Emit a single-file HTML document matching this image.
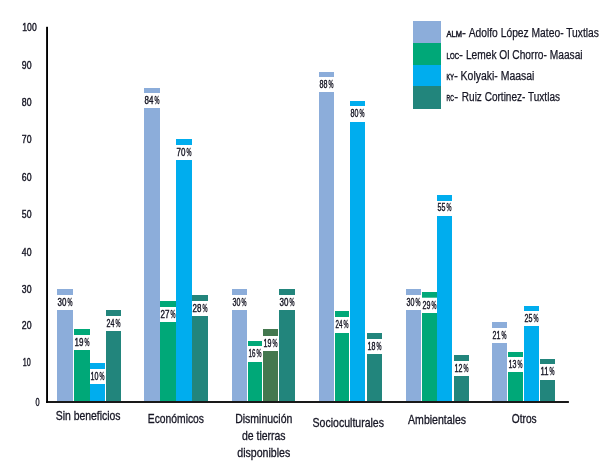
<!DOCTYPE html>
<html lang="es"><head><meta charset="utf-8"><title>Beneficios</title>
<style>
html,body{margin:0;padding:0;background:#fff;}
body{width:608px;height:469px;overflow:hidden;}
svg{display:block;}
text{font-family:"Liberation Sans",sans-serif;fill:#161624;stroke:#161624;stroke-width:0.4px;}
.v{font-size:10.2px;}
.y{font-size:10.5px;}
.c{font-size:12.2px;stroke-width:0.3px;}
.l{font-size:12.5px;stroke-width:0.25px;}
.s{font-size:9px;stroke-width:0.5px;}
</style></head><body>
<svg width="608" height="469" viewBox="0 0 608 469">
<rect x="0" y="0" width="608" height="469" fill="#fff"/>

<rect x="57" y="289" width="16" height="112" fill="#8cadda"/>
<rect x="57" y="295" width="16" height="15" fill="#fff"/>
<text class="v" x="57.5" y="305.8" textLength="8.9" lengthAdjust="spacingAndGlyphs">30</text>
<text class="v" x="67.6" y="305.8" textLength="5.0" lengthAdjust="spacingAndGlyphs">%</text>
<rect x="74" y="329" width="16" height="72" fill="#00a878"/>
<rect x="74" y="335" width="16" height="15" fill="#fff"/>
<text class="v" x="74.5" y="345.8" textLength="8.9" lengthAdjust="spacingAndGlyphs">19</text>
<text class="v" x="84.6" y="345.8" textLength="5.0" lengthAdjust="spacingAndGlyphs">%</text>
<rect x="90" y="363" width="15" height="38" fill="#00adee"/>
<rect x="90" y="369" width="15" height="15" fill="#fff"/>
<text class="v" x="90.5" y="379.8" textLength="7.9" lengthAdjust="spacingAndGlyphs">10</text>
<text class="v" x="99.6" y="379.8" textLength="5.0" lengthAdjust="spacingAndGlyphs">%</text>
<rect x="106" y="310" width="15" height="91" fill="#22857c"/>
<rect x="106" y="316" width="15" height="15" fill="#fff"/>
<text class="v" x="106.5" y="326.8" textLength="7.9" lengthAdjust="spacingAndGlyphs">24</text>
<text class="v" x="115.6" y="326.8" textLength="5.0" lengthAdjust="spacingAndGlyphs">%</text>
<rect x="144" y="88" width="16" height="313" fill="#8cadda"/>
<rect x="144" y="93" width="16" height="15" fill="#fff"/>
<text class="v" x="144.5" y="103.5" textLength="8.9" lengthAdjust="spacingAndGlyphs">84</text>
<text class="v" x="154.6" y="103.5" textLength="5.0" lengthAdjust="spacingAndGlyphs">%</text>
<rect x="160" y="301" width="16" height="100" fill="#00a878"/>
<rect x="160" y="307" width="16" height="15" fill="#fff"/>
<text class="v" x="160.5" y="317.8" textLength="8.9" lengthAdjust="spacingAndGlyphs">27</text>
<text class="v" x="170.6" y="317.8" textLength="5.0" lengthAdjust="spacingAndGlyphs">%</text>
<rect x="176" y="139" width="16" height="262" fill="#00adee"/>
<rect x="176" y="145" width="16" height="15" fill="#fff"/>
<text class="v" x="176.5" y="155.8" textLength="8.9" lengthAdjust="spacingAndGlyphs">70</text>
<text class="v" x="186.6" y="155.8" textLength="5.0" lengthAdjust="spacingAndGlyphs">%</text>
<rect x="192" y="295" width="16" height="106" fill="#22857c"/>
<rect x="192" y="301" width="16" height="15" fill="#fff"/>
<text class="v" x="192.5" y="311.8" textLength="8.9" lengthAdjust="spacingAndGlyphs">28</text>
<text class="v" x="202.6" y="311.8" textLength="5.0" lengthAdjust="spacingAndGlyphs">%</text>
<rect x="232" y="289" width="15" height="112" fill="#8cadda"/>
<rect x="232" y="295" width="15" height="15" fill="#fff"/>
<text class="v" x="232.5" y="305.8" textLength="7.9" lengthAdjust="spacingAndGlyphs">30</text>
<text class="v" x="241.6" y="305.8" textLength="5.0" lengthAdjust="spacingAndGlyphs">%</text>
<rect x="248" y="341" width="14" height="60" fill="#00a878"/>
<rect x="248" y="346" width="14" height="16" fill="#fff"/>
<text class="v" x="248.5" y="356.8" textLength="6.9" lengthAdjust="spacingAndGlyphs">16</text>
<text class="v" x="256.6" y="356.8" textLength="5.0" lengthAdjust="spacingAndGlyphs">%</text>
<rect x="263" y="329" width="15" height="72" fill="#44784f"/>
<rect x="263" y="336" width="15" height="15" fill="#fff"/>
<text class="v" x="263.5" y="346.8" textLength="7.9" lengthAdjust="spacingAndGlyphs">19</text>
<text class="v" x="272.6" y="346.8" textLength="5.0" lengthAdjust="spacingAndGlyphs">%</text>
<rect x="279" y="289" width="16" height="112" fill="#22857c"/>
<rect x="279" y="295" width="16" height="15" fill="#fff"/>
<text class="v" x="279.5" y="305.8" textLength="8.9" lengthAdjust="spacingAndGlyphs">30</text>
<text class="v" x="289.6" y="305.8" textLength="5.0" lengthAdjust="spacingAndGlyphs">%</text>
<rect x="319" y="72" width="15" height="329" fill="#8cadda"/>
<rect x="319" y="77" width="15" height="15" fill="#fff"/>
<text class="v" x="319.5" y="87.5" textLength="7.9" lengthAdjust="spacingAndGlyphs">88</text>
<text class="v" x="328.6" y="87.5" textLength="5.0" lengthAdjust="spacingAndGlyphs">%</text>
<rect x="335" y="311" width="14" height="90" fill="#00a878"/>
<rect x="335" y="317" width="14" height="16" fill="#fff"/>
<text class="v" x="335.5" y="327.8" textLength="6.9" lengthAdjust="spacingAndGlyphs">24</text>
<text class="v" x="343.6" y="327.8" textLength="5.0" lengthAdjust="spacingAndGlyphs">%</text>
<rect x="350" y="101" width="15" height="300" fill="#00adee"/>
<rect x="350" y="106" width="15" height="16" fill="#fff"/>
<text class="v" x="350.5" y="116.8" textLength="7.9" lengthAdjust="spacingAndGlyphs">80</text>
<text class="v" x="359.6" y="116.8" textLength="5.0" lengthAdjust="spacingAndGlyphs">%</text>
<rect x="367" y="333" width="15" height="68" fill="#22857c"/>
<rect x="367" y="339" width="15" height="15" fill="#fff"/>
<text class="v" x="367.5" y="349.8" textLength="7.9" lengthAdjust="spacingAndGlyphs">18</text>
<text class="v" x="376.6" y="349.8" textLength="5.0" lengthAdjust="spacingAndGlyphs">%</text>
<rect x="406" y="289" width="15" height="112" fill="#8cadda"/>
<rect x="406" y="295" width="15" height="15" fill="#fff"/>
<text class="v" x="406.5" y="305.5" textLength="7.9" lengthAdjust="spacingAndGlyphs">30</text>
<text class="v" x="415.6" y="305.5" textLength="5.0" lengthAdjust="spacingAndGlyphs">%</text>
<rect x="422" y="292" width="15" height="109" fill="#00a878"/>
<rect x="422" y="297.7" width="15" height="15.300000000000011" fill="#fff"/>
<text class="v" x="422.5" y="308.9" textLength="7.9" lengthAdjust="spacingAndGlyphs">29</text>
<text class="v" x="431.6" y="308.9" textLength="5.0" lengthAdjust="spacingAndGlyphs">%</text>
<rect x="437" y="195" width="15" height="206" fill="#00adee"/>
<rect x="437" y="201" width="15" height="15" fill="#fff"/>
<text class="v" x="437.5" y="211.1" textLength="7.9" lengthAdjust="spacingAndGlyphs">55</text>
<text class="v" x="446.6" y="211.1" textLength="5.0" lengthAdjust="spacingAndGlyphs">%</text>
<rect x="454" y="355" width="15" height="46" fill="#22857c"/>
<rect x="454" y="361" width="15" height="15" fill="#fff"/>
<text class="v" x="454.5" y="371.8" textLength="7.9" lengthAdjust="spacingAndGlyphs">12</text>
<text class="v" x="463.6" y="371.8" textLength="5.0" lengthAdjust="spacingAndGlyphs">%</text>
<rect x="492" y="322" width="15" height="79" fill="#8cadda"/>
<rect x="492" y="328" width="15" height="15" fill="#fff"/>
<text class="v" x="492.5" y="339.1" textLength="7.9" lengthAdjust="spacingAndGlyphs">21</text>
<text class="v" x="501.6" y="339.1" textLength="5.0" lengthAdjust="spacingAndGlyphs">%</text>
<rect x="508" y="352" width="15" height="49" fill="#00a878"/>
<rect x="508" y="357" width="15" height="15" fill="#fff"/>
<text class="v" x="508.5" y="367.8" textLength="7.9" lengthAdjust="spacingAndGlyphs">13</text>
<text class="v" x="517.6" y="367.8" textLength="5.0" lengthAdjust="spacingAndGlyphs">%</text>
<rect x="524" y="306" width="15" height="95" fill="#00adee"/>
<rect x="524" y="311" width="15" height="15" fill="#fff"/>
<text class="v" x="524.5" y="321.8" textLength="7.9" lengthAdjust="spacingAndGlyphs">25</text>
<text class="v" x="533.6" y="321.8" textLength="5.0" lengthAdjust="spacingAndGlyphs">%</text>
<rect x="540" y="359" width="15" height="42" fill="#22857c"/>
<rect x="540" y="364" width="15" height="16" fill="#fff"/>
<text class="v" x="540.5" y="374.8" textLength="7.9" lengthAdjust="spacingAndGlyphs">11</text>
<text class="v" x="549.6" y="374.8" textLength="5.0" lengthAdjust="spacingAndGlyphs">%</text>
<rect x="46.1" y="26.8" width="1.9" height="376.1" fill="#000"/>
<rect x="46.1" y="401.1" width="522.8" height="1.8" fill="#000"/>
<text class="y" x="22.3" y="30.95" textLength="14.4" lengthAdjust="spacingAndGlyphs">100</text>
<text class="y" x="21.8" y="68.85" textLength="9.7" lengthAdjust="spacingAndGlyphs">90</text>
<text class="y" x="21.8" y="106.25" textLength="9.7" lengthAdjust="spacingAndGlyphs">80</text>
<text class="y" x="21.8" y="143.25" textLength="9.7" lengthAdjust="spacingAndGlyphs">70</text>
<text class="y" x="21.8" y="180.85" textLength="9.7" lengthAdjust="spacingAndGlyphs">60</text>
<text class="y" x="21.8" y="218.15" textLength="9.7" lengthAdjust="spacingAndGlyphs">50</text>
<text class="y" x="21.8" y="255.55" textLength="9.7" lengthAdjust="spacingAndGlyphs">40</text>
<text class="y" x="21.8" y="293.25" textLength="9.7" lengthAdjust="spacingAndGlyphs">30</text>
<text class="y" x="21.8" y="329.05" textLength="9.7" lengthAdjust="spacingAndGlyphs">20</text>
<text class="y" x="22.8" y="365.75" textLength="8.0" lengthAdjust="spacingAndGlyphs">10</text>
<text class="y" x="35.6" y="406.25" textLength="4.1" lengthAdjust="spacingAndGlyphs">0</text>
<text class="c" x="55.7" y="420" textLength="64.9" lengthAdjust="spacingAndGlyphs">Sin beneficios</text>
<text class="c" x="147.8" y="423.2" textLength="56.2" lengthAdjust="spacingAndGlyphs">Económicos</text>
<text class="c" x="235.2" y="423.2" textLength="57.2" lengthAdjust="spacingAndGlyphs">Disminución</text>
<text class="c" x="242.0" y="440.3" textLength="43.6" lengthAdjust="spacingAndGlyphs">de tierras</text>
<text class="c" x="237.3" y="456.8" textLength="53.0" lengthAdjust="spacingAndGlyphs">disponibles</text>
<text class="c" x="312.6" y="427.1" textLength="71.4" lengthAdjust="spacingAndGlyphs">Socioculturales</text>
<text class="c" x="408.1" y="424" textLength="58.0" lengthAdjust="spacingAndGlyphs">Ambientales</text>
<text class="c" x="511.8" y="423.2" textLength="24.8" lengthAdjust="spacingAndGlyphs">Otros</text>
<rect x="413" y="21" width="28" height="22" fill="#8cadda"/>
<rect x="413" y="43" width="28" height="22" fill="#00a878"/>
<rect x="413" y="65" width="28" height="21" fill="#00adee"/>
<rect x="413" y="86" width="28" height="23" fill="#22857c"/>
<text class="s" x="446.6" y="36.75" textLength="15.4" lengthAdjust="spacingAndGlyphs">ALM</text>
<text class="l" x="462.1" y="36.75" textLength="3.9" lengthAdjust="spacingAndGlyphs">-</text>
<text class="l" x="468.7" y="36.75" textLength="130.3" lengthAdjust="spacingAndGlyphs">Adolfo López Mateo- Tuxtlas</text>
<text class="s" x="446.6" y="58.7" textLength="12.4" lengthAdjust="spacingAndGlyphs">LOC</text>
<text class="l" x="459.1" y="58.7" textLength="3.9" lengthAdjust="spacingAndGlyphs">-</text>
<text class="l" x="465.9" y="58.7" textLength="116.7" lengthAdjust="spacingAndGlyphs">Lemek Ol Chorro- Maasai</text>
<text class="s" x="446.6" y="80.0" textLength="7.2" lengthAdjust="spacingAndGlyphs">KY</text>
<text class="l" x="454.0" y="80.0" textLength="3.9" lengthAdjust="spacingAndGlyphs">-</text>
<text class="l" x="460.6" y="80.0" textLength="73.8" lengthAdjust="spacingAndGlyphs">Kolyaki- Maasai</text>
<text class="s" x="446.6" y="101.4" textLength="7.4" lengthAdjust="spacingAndGlyphs">RC</text>
<text class="l" x="454.2" y="101.4" textLength="3.9" lengthAdjust="spacingAndGlyphs">-</text>
<text class="l" x="461.8" y="101.4" textLength="98.2" lengthAdjust="spacingAndGlyphs">Ruiz Cortinez- Tuxtlas</text>
</svg></body></html>
